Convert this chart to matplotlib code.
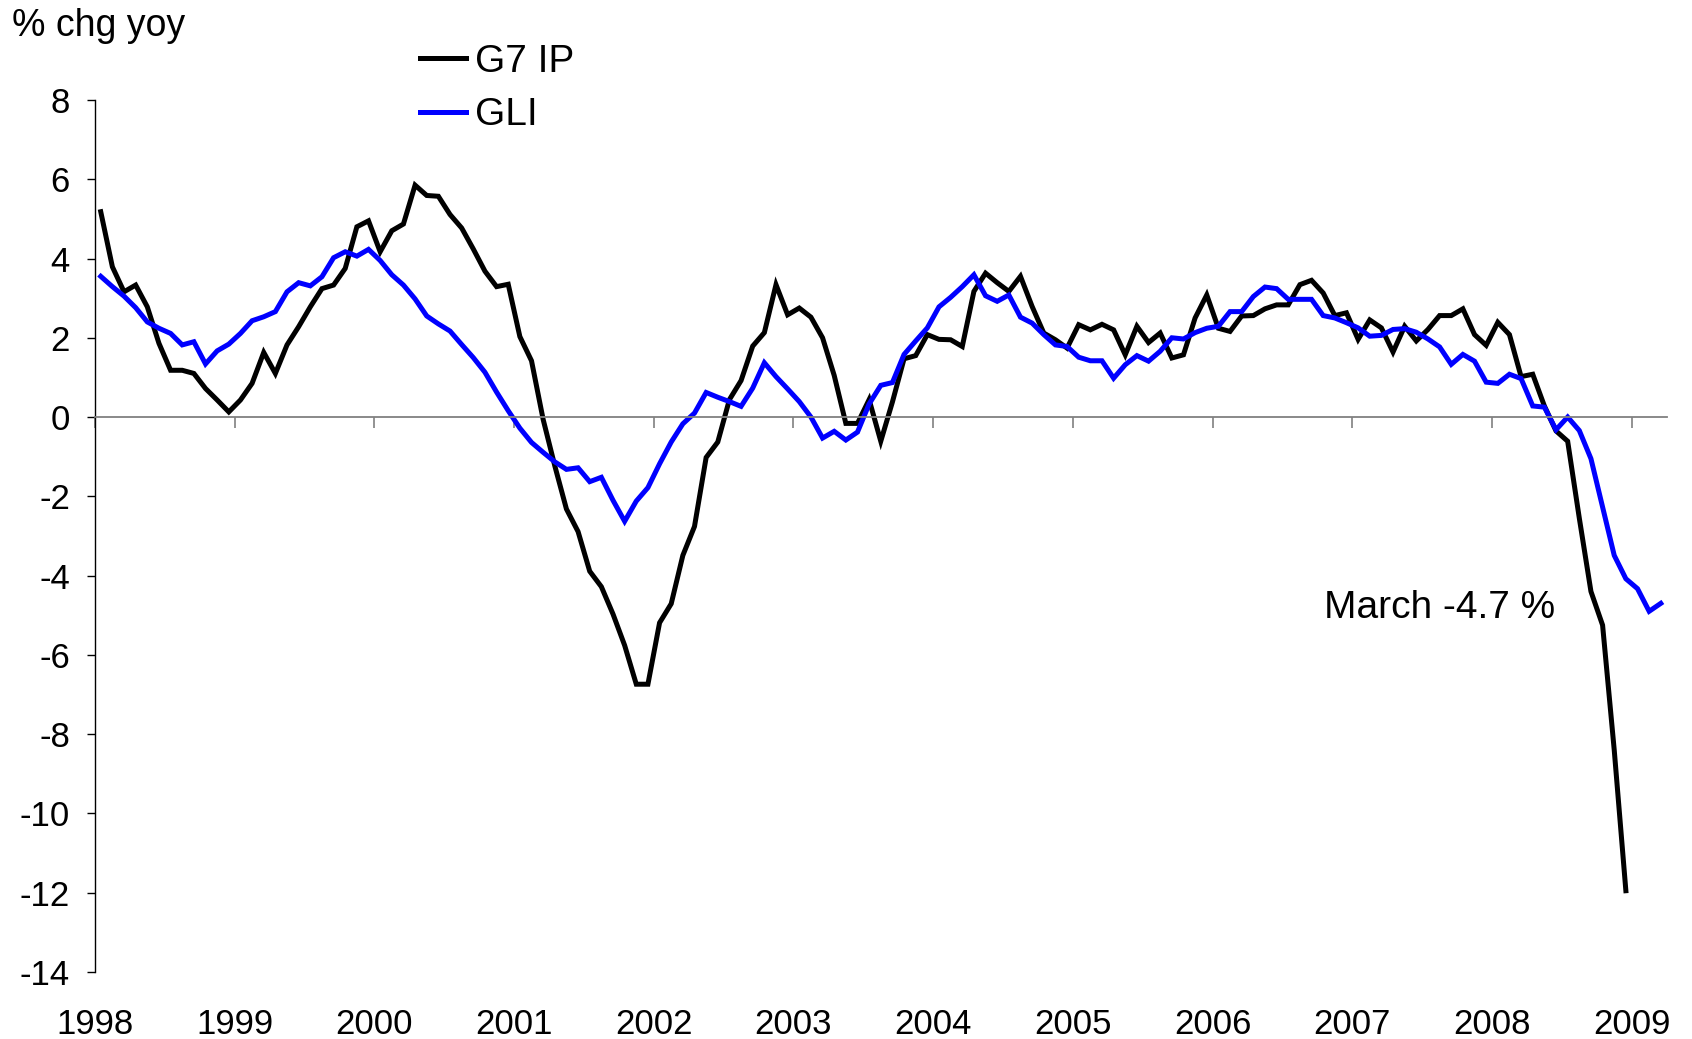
import matplotlib
matplotlib.use("Agg")
import matplotlib.pyplot as plt
import numpy as np

plt.rcParams['font.family'] = ['Liberation Sans', 'DejaVu Sans']
plt.rcParams['axes.unicode_minus'] = False

# monthly yoy % changes, Jan 1998 onwards
g7_ip = [5.18, 3.79, 3.16, 3.33, 2.78, 1.86, 1.18, 1.18, 1.10, 0.72, 0.43, 0.13,
         0.43, 0.85, 1.63, 1.10, 1.82, 2.28, 2.78, 3.24, 3.33, 3.75, 4.80, 4.95,
         4.17, 4.70, 4.87, 5.85, 5.59, 5.57, 5.11, 4.77, 4.24, 3.68, 3.29, 3.35,
         2.03, 1.42, -0.06, -1.23, -2.32, -2.89, -3.89, -4.28, -4.97, -5.76, -6.74, -6.74,
         -5.19, -4.71, -3.49, -2.76, -1.02, -0.63, 0.44, 0.92, 1.79, 2.13, 3.34, 2.58,
         2.75, 2.52, 2.00, 1.05, -0.16, -0.16, 0.44, -0.61, 0.38, 1.47, 1.55, 2.08,
         1.96, 1.95, 1.78, 3.17, 3.63, 3.39, 3.17, 3.55, 2.79, 2.12, 1.95, 1.74,
         2.33, 2.20, 2.34, 2.20, 1.57, 2.29, 1.88, 2.12, 1.49, 1.57, 2.50, 3.08,
         2.24, 2.16, 2.55, 2.56, 2.73, 2.83, 2.83, 3.34, 3.45, 3.13, 2.56, 2.63,
         1.96, 2.45, 2.25, 1.64, 2.29, 1.92, 2.21, 2.56, 2.56, 2.73, 2.08, 1.81,
         2.39, 2.08, 1.02, 1.08, 0.28, -0.35, -0.61, -2.55, -4.40, -5.25, -8.40, -11.95]

gli = [3.55, 3.29, 3.05, 2.76, 2.40, 2.24, 2.11, 1.82, 1.90, 1.34, 1.67, 1.84,
       2.11, 2.43, 2.53, 2.66, 3.16, 3.39, 3.31, 3.54, 4.02, 4.17, 4.06, 4.23,
       3.95, 3.59, 3.33, 2.98, 2.55, 2.35, 2.17, 1.83, 1.50, 1.13, 0.63, 0.16,
       -0.28, -0.64, -0.89, -1.13, -1.32, -1.28, -1.63, -1.52, -2.10, -2.63, -2.12, -1.78,
       -1.18, -0.63, -0.17, 0.10, 0.62, 0.50, 0.39, 0.27, 0.73, 1.37, 1.02, 0.71,
       0.39, 0.00, -0.53, -0.36, -0.58, -0.38, 0.33, 0.80, 0.87, 1.58, 1.92, 2.25,
       2.78, 3.02, 3.29, 3.59, 3.06, 2.92, 3.08, 2.52, 2.37, 2.08, 1.82, 1.78,
       1.51, 1.42, 1.42, 0.98, 1.32, 1.55, 1.41, 1.66, 2.00, 1.97, 2.13, 2.24,
       2.29, 2.66, 2.66, 3.04, 3.28, 3.24, 2.97, 2.97, 2.97, 2.56, 2.50, 2.38,
       2.25, 2.04, 2.06, 2.21, 2.23, 2.14, 1.97, 1.77, 1.33, 1.58, 1.41, 0.88,
       0.85, 1.08, 0.97, 0.28, 0.25, -0.32, 0.00, -0.34, -1.05, -2.27, -3.49, -4.08,
       -4.33, -4.90, -4.70]

years = list(range(1998, 2010))
n_months = 135  # Jan 1998 - Mar 2009

fig = plt.figure(figsize=(16.92, 10.39), dpi=100)
ax = fig.add_axes([0.0561, 0.0645, 0.9289, 0.8393])

x_g7 = np.arange(len(g7_ip)) + 0.5
x_gli = np.arange(len(gli)) + 0.5
ax.plot(x_g7, g7_ip, color='black', lw=3.6, label='G7 IP', solid_joinstyle='miter')
ax.plot(x_gli, gli, color='#0000FF', lw=3.6, label='GLI', solid_joinstyle='miter')

ax.set_xlim(0, n_months)
ax.set_ylim(-14, 8)
ax.set_yticks(range(-14, 9, 2))
ax.tick_params(axis='y', direction='out', length=6, width=1, labelsize=25, pad=12)

# category axis crossing at zero
ax.spines['top'].set_visible(False)
ax.spines['right'].set_visible(False)
ax.spines['bottom'].set_position(('data', 0))
ax.spines['bottom'].set_color('#808080')
ax.spines['bottom'].set_linewidth(1.3)
ax.spines['left'].set_linewidth(1)
ax.set_xticks([12 * k for k in range(len(years))])
ax.tick_params(axis='x', direction='out', length=8, width=1.2, color='#808080', labelbottom=False)

sec = ax.secondary_xaxis(0)
sec.set_xticks([12 * k for k in range(len(years))])
sec.set_xticklabels([str(y) for y in years])
sec.tick_params(length=0, labelsize=25, pad=26)
sec.spines['bottom'].set_visible(False)

fig.text(0.007, 0.975, '% chg yoy', fontsize=27, ha='left', va='center')
ax.text(105.6, -4.82, 'March -4.7 %', fontsize=28, ha='left', va='center')

fig.legend(loc='upper left', bbox_to_anchor=(0.248, 0.958), frameon=False,
           fontsize=28, handlelength=1.18, handletextpad=0.25, labelspacing=0.45,
           borderpad=0, borderaxespad=0)

fig.savefig('out.png', dpi=100)
